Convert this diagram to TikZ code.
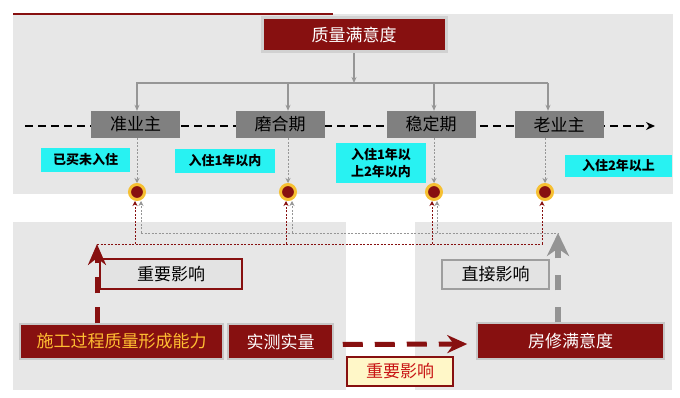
\documentclass[tikz,border=0pt]{standalone}
\usepackage{fontspec}
\newfontfamily\cjk{Noto Sans CJK SC}
\usetikzlibrary{arrows.meta}
\definecolor{bgg}{RGB}{231,231,231}
\definecolor{dred}{RGB}{135,16,16}
\definecolor{boxg}{RGB}{128,128,128}
\definecolor{cyanc}{RGB}{40,242,242}
\definecolor{ringc}{RGB}{246,192,50}
\definecolor{ytext}{RGB}{255,190,50}
\definecolor{lyel}{RGB}{255,247,200}
\definecolor{rtext}{RGB}{200,20,20}
\definecolor{lineg}{RGB}{150,150,150}
\tikzset{
  big/.style={font=\cjk\fontsize{17}{20}\selectfont},
  redbox/.style={big, fill=dred, draw=black!22, line width=1.5pt, text=white, inner sep=0pt},
  graybox/.style={big, fill=boxg, text=black, inner sep=0pt},
  cyanlab/.style={font=\cjk\bfseries\fontsize{13}{17}\selectfont, fill=cyanc, inner sep=0pt, align=center},
  dot/.style={circle, fill=dred, draw=ringc, line width=3pt, minimum size=15pt, inner sep=0pt},
  treeline/.style={draw=lineg, line width=1.2pt},
  treearrow/.style={treeline, -{Stealth[length=6pt,width=5pt]}},
  reddot/.style={draw=dred, line width=0.9pt, dash pattern=on 2pt off 1.5pt},
  graydot/.style={draw=lineg, line width=0.9pt, dash pattern=on 2pt off 1.5pt},
  reddotarrow/.style={reddot, -{Stealth[length=5pt,width=5pt]}},
  graydotarrow/.style={graydot, -{Stealth[length=5pt,width=5pt]}},
  effectbox/.style={big, inner sep=0pt, line width=2pt},
}
\begin{document}
\begin{tikzpicture}[x=1pt,y=-1pt]
\useasboundingbox (0,0) rectangle (680,398);
\fill[white] (0,0) rectangle (680,398);
% backgrounds
\fill[bgg] (13,14) rectangle (673,194);
\fill[bgg] (13,222) rectangle (346,390);
\fill[bgg] (415,222) rectangle (672,390);
\draw[dred, line width=2pt] (13,14) -- (333,14);

% title
\node[redbox, draw=black!18, line width=3pt, minimum width=184pt, minimum height=34pt] (title) at (354,35) {质量满意度};

% timeline
\coordinate (tl0) at (25,126);
\coordinate (tl1) at (655,126);
\draw[line width=1.6pt, dash pattern=on 8pt off 5pt, -{Stealth[length=9pt,width=8pt]}] (tl0) -- (tl1);

% stage boxes
\node[graybox, minimum width=89pt, minimum height=27pt] (b1) at (135.5,124.5) {准业主};
\node[graybox, minimum width=89pt, minimum height=27pt] (b2) at (280,124.5) {磨合期};
\node[graybox, minimum width=89pt, minimum height=27pt] (b3) at (431,124.5) {稳定期};
\node[graybox, minimum width=89pt, minimum height=27pt] (b4) at (559,124.5) {老业主};

% circles
\node[dot] (c1) at (137,192) {};
\node[dot] (c2) at (288,192) {};
\node[dot] (c3) at (434,192) {};
\node[dot] (c4) at (545,192) {};

% tree from title
\coordinate (j) at (354,83);
\draw[treearrow] (title.south) -- (j);
\draw[treearrow] (j) -| (b1.north -| c1);
\draw[treearrow] (j) -| (b2.north -| c2);
\draw[treearrow] (j) -| (b3.north -| c3);
\draw[treearrow] ([xshift=3pt]j -| c4) -- ([xshift=3pt]b4.north -| c4);
\draw[treeline] (j) -- ([xshift=3pt]j -| c4);

% cyan labels
\node[cyanlab, minimum width=89pt, minimum height=24pt] (l1) at (85.5,160) {已买未入住};
\node[cyanlab, minimum width=100pt, minimum height=24pt] (l2) at (225,161) {入住1年以内};
\node[cyanlab, minimum width=90pt, minimum height=40pt] (l3) at (381,163) {入住1年以\\上2年以内};
\node[cyanlab, minimum width=107pt, minimum height=22pt] (l4) at (618.5,166) {入住2年以上};

% box to circle dotted arrows
\draw[graydotarrow] (b1.south -| c1) -- (c1.north);
\draw[graydotarrow] (b2.south -| c2) -- (c2.north);
\draw[graydotarrow] (b3.south -| c3) -- (c3.north);
\draw[graydotarrow] (b4.south -| c4) -- (c4.north);

% lower boxes
\node[redbox, text=ytext, minimum width=203pt, minimum height=35pt] (sg) at (121.5,341.5) {施工过程质量形成能力};
\node[redbox, minimum width=105pt, minimum height=35pt] (sc) at (280.5,341.5) {实测实量};
\node[redbox, minimum width=187pt, minimum height=36pt] (fx) at (570.5,341) {房修满意度};

\node[effectbox, fill=black!11, draw=dred, minimum width=142pt, minimum height=30pt] (e1) at (171,274) {重要影响};
\node[effectbox, fill=black!11, draw=black!38, minimum width=107pt, minimum height=29pt] (e2) at (495.5,274.5) {直接影响};
\node[effectbox, fill=lyel, draw=dred, text=rtext, minimum width=106pt, minimum height=29pt] (e3) at (400,371.5) {重要影响};

% tips of big arrows
\coordinate (rtip) at (97,244);
\coordinate (gtip) at (558,233);

% red dotted network
\draw[reddot] (rtip) -- ([xshift=-3pt]rtip -| c4);
\draw[reddotarrow] ([xshift=-2pt]rtip -| c1) -- ([xshift=-2pt]c1.south);
\draw[reddotarrow] ([xshift=-2pt]rtip -| c2) -- ([xshift=-2pt]c2.south);
\draw[reddotarrow] ([xshift=-2pt]rtip -| c3) -- ([xshift=-2pt]c3.south);
\draw[reddotarrow] ([xshift=-3pt]rtip -| c4) -- ([xshift=-3pt]c4.south);
% gray dotted network
\draw[graydot] ([xshift=4pt]gtip -| c1) -- (gtip);
\draw[graydotarrow] ([xshift=4pt]gtip -| c1) -- ([xshift=4pt]c1.south);
\draw[graydotarrow] ([xshift=4pt]gtip -| c2) -- ([xshift=4pt]c2.south);
\draw[graydotarrow] ([xshift=3pt]gtip -| c3) -- ([xshift=3pt]c3.south);

% big arrows
\draw[dred, line width=5pt, dash pattern=on 16pt off 14pt, -{Stealth[length=21pt,width=18pt]}] (sg.north -| rtip) -- (rtip);
\draw[black!42, line width=5.5pt, dash pattern=on 15pt off 17pt, -{Stealth[length=23pt,width=22pt]}] (fx.north -| gtip) -- (gtip);
\draw[dred, line width=5pt, dash pattern=on 20pt off 12pt, shorten <=9pt, shorten >=9pt, -{Stealth[length=20pt,width=18pt]}] ([yshift=-3pt]sc.east) -- ([yshift=-3pt]fx.west);
\end{tikzpicture}
\end{document}
